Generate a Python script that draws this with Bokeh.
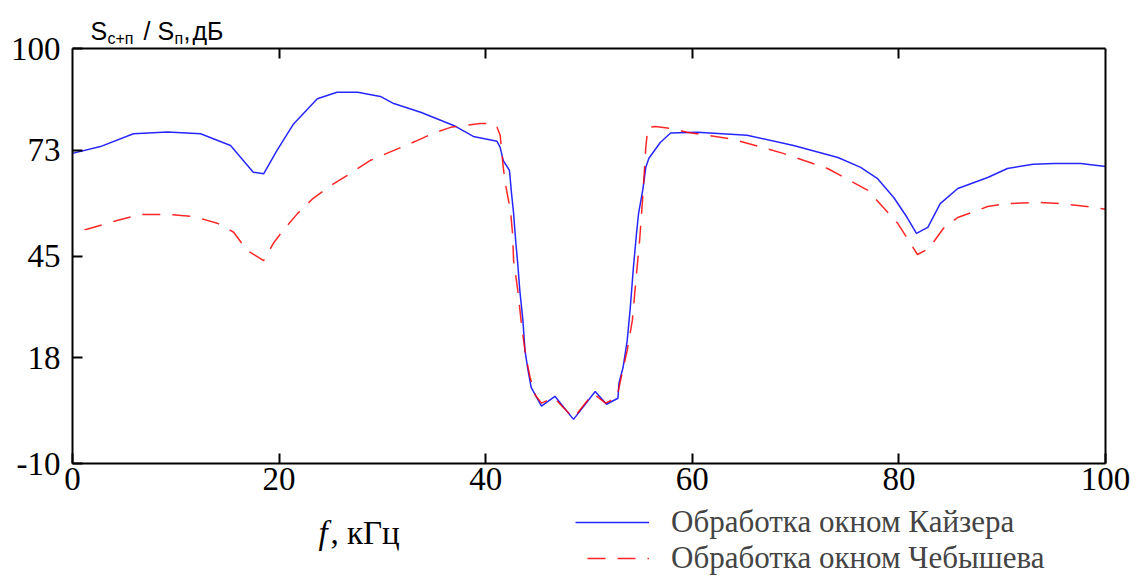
from bokeh.plotting import figure
from bokeh.models import (Range1d, FixedTicker, LinearAxis, Label, Legend, LegendItem)
from bokeh.embed import file_html
from bokeh.resources import INLINE

# ---- data ----
kaiser_f = [0, 2.7, 5.9, 9.2, 12.4, 15.3, 17.5, 18.5, 19.8, 21.4, 23.7, 25.6, 27.6,
            29.8, 31.1, 33.7, 36.9, 38.8, 41.1, 41.4, 41.7, 42.3, 42.5, 42.7, 42.9,
            43.1, 43.3, 43.6, 43.8, 44.1, 44.4, 45.4, 46.7, 48.5, 50.6, 51.7, 52.8,
            52.9, 53.3, 53.7, 54.0, 54.3, 54.6, 54.8, 55.2, 55.5, 55.8, 56.9, 57.9,
            60.5, 65.3, 69.8, 74.1, 76.3, 77.9, 79.5, 80.8, 81.7, 82.8, 84.0, 85.7,
            88.6, 90.5, 93.0, 95.0, 97.6, 100]
kaiser_db = [72.2, 74.0, 77.4, 77.9, 77.4, 74.3, 67.2, 66.8, 73.0, 80.0, 86.7, 88.4, 88.4,
             87.3, 85.4, 83.1, 79.6, 76.7, 75.4, 73.8, 70.3, 67.7, 61.6, 56.3, 49.1,
             43.0, 35.9, 28.0, 20.0, 14.7, 10.2, 5.2, 7.8, 1.7, 9.1, 5.7, 7.3,
             11.3, 15.5, 22.6, 31.4, 42.0, 51.0, 56.3, 62.4, 68.5, 70.9, 75.1, 77.6,
             77.8, 77.0, 74.3, 71.1, 68.5, 65.6, 60.5, 55.2, 51.0, 52.6, 58.9, 62.9,
             65.8, 68.2, 69.3, 69.5, 69.5, 68.7]

cheb_f = [0, 1.4, 4.3, 6.6, 9.2, 11.7, 14.1, 15.6, 16.9, 18.5, 19.5, 20.4, 21.8, 23.3,
          25.3, 26.6, 28.8, 30.6, 33.2, 34.9, 36.6, 38.0, 39.5, 40.8, 41.1, 41.4,
          41.7, 41.9, 42.4, 42.6, 42.7, 43.1, 43.5, 43.9, 44.3, 44.8, 45.4, 46.6,
          48.5, 50.4, 51.6, 52.7, 53.2, 53.7, 54.2, 54.6, 54.9, 55.2, 55.5, 55.7,
          56.4, 57.9, 59.5, 64.0, 68.8, 73.1, 77.0, 79.9, 81.8, 82.9, 84.3, 85.7,
          88.6, 90.5, 93.5, 95.6, 98.2, 100]
cheb_db = [51.5, 52.1, 54.4, 56.0, 56.0, 55.5, 53.6, 51.3, 46.5, 43.8, 48.6, 51.8, 56.3, 60.3,
           64.2, 66.4, 70.3, 72.4, 75.4, 77.5, 79.1, 79.6, 80.1, 80.1, 79.1, 77.0,
           68.5, 64.2, 57.0, 51.0, 43.8, 36.0, 26.0, 18.1, 12.8, 8.1, 6.0, 7.5,
           2.0, 8.6, 6.0, 7.5, 13.9, 20.0, 28.0, 40.4, 49.1, 60.5, 73.8, 79.1,
           79.3, 78.8, 77.8, 75.9, 72.2, 68.2, 62.4, 53.6, 45.4, 47.0, 52.3, 55.2,
           58.1, 58.9, 59.2, 58.9, 58.1, 57.4]

x_ticks = [0, 20, 40, 60, 80, 100]
y_ticks = [-10, 18, 45, 73, 100]
x_lim = (0, 100)
y_lim = (-10, 100)
series_names = ["Обработка окном Кайзера", "Обработка окном Чебышева"]

SERIF = "Liberation Serif"
SANS = "Liberation Sans"

W, H = 1142, 576
# plot box in pixels: left 72, right 1105, top 48, bottom 463
L, R, T, B = 72, 1105, 48, 463
xs = (x_lim[1] - x_lim[0]) / (R - L)
ys = (y_lim[1] - y_lim[0]) / (B - T)
x_range = Range1d(x_lim[0] - L * xs, x_lim[1] + (W - R) * xs)
y_range = Range1d(y_lim[0] - (H - B) * ys, y_lim[1] + T * ys)

p = figure(width=W, height=H, output_backend="svg", toolbar_location=None,
           x_range=x_range, y_range=y_range,
           x_axis_location=None, y_axis_location=None,
           min_border=0, min_border_left=0, min_border_right=0,
           min_border_top=0, min_border_bottom=0)
p.grid.visible = False
p.outline_line_color = None


def make_axis(ticks, loc, bounds, labels=True):
    ax = LinearAxis(ticker=FixedTicker(ticks=ticks), fixed_location=loc, bounds=bounds,
                    axis_line_width=2, axis_line_color="black",
                    major_tick_line_width=2, major_tick_in=10, major_tick_out=0,
                    minor_tick_line_color=None,
                    major_label_text_font=SERIF, major_label_text_font_size="33px",
                    major_label_text_color="black")
    if not labels:
        ax.major_label_text_font_size = "0px"
        ax.major_label_text_alpha = 0
    return ax


bottom = make_axis(x_ticks, y_lim[0], x_lim)
bottom.major_label_standoff = 4
left = make_axis(y_ticks, x_lim[0], y_lim)
left.major_label_standoff = 12
left.major_label_overrides = {-10: "-10"}
top = make_axis(x_ticks[1:-1], y_lim[1], x_lim, labels=False)
right = make_axis([], x_lim[1], y_lim, labels=False)
p.add_layout(bottom, "below")
p.add_layout(left, "left")
p.add_layout(top, "above")
p.add_layout(right, "right")

r1 = p.line(kaiser_f, kaiser_db, line_color="#0000ff", line_width=1.5, line_alpha=0.85)
r2 = p.line(cheb_f, cheb_db, line_color="#ff0000", line_width=1.5, line_alpha=0.85,
            line_dash="18 12", line_dash_offset=18)

legend = Legend(items=[LegendItem(label=series_names[0], renderers=[r1]),
                       LegendItem(label=series_names[1], renderers=[r2])],
                location=(575, 0), orientation="vertical",
                label_text_font=SERIF, label_text_font_size="31px",
                glyph_width=74, glyph_height=34, label_standoff=22, spacing=0,
                padding=0, margin=0, border_line_color=None, background_fill_alpha=0,
                label_height=34)
p.add_layout(legend, "center")


def lab(px, py, t, size, style="normal", font=SANS):
    # px, py: pixel position from top-left of the canvas (baseline)
    p.add_layout(Label(x=px, y=H - py, x_units="screen", y_units="screen", text=t,
                       text_font=font, text_font_size=size, text_font_style=style,
                       text_baseline="alphabetic", text_color="black"))


lab(90, 30, "S", "25px")
lab(107, 38, "с+п", "16px")
lab(143, 30, "/", "25px")
lab(157, 30, "S", "25px")
lab(174, 38, "п", "16px")
lab(183, 30, ",", "25px")
lab(192, 30, "дБ", "25px")

lab(318, 532, "f", "33px", "italic", SERIF)
lab(330, 532, ", кГц", "33px", "normal", SERIF)

open("out.html", "w").write(file_html(p, INLINE))
